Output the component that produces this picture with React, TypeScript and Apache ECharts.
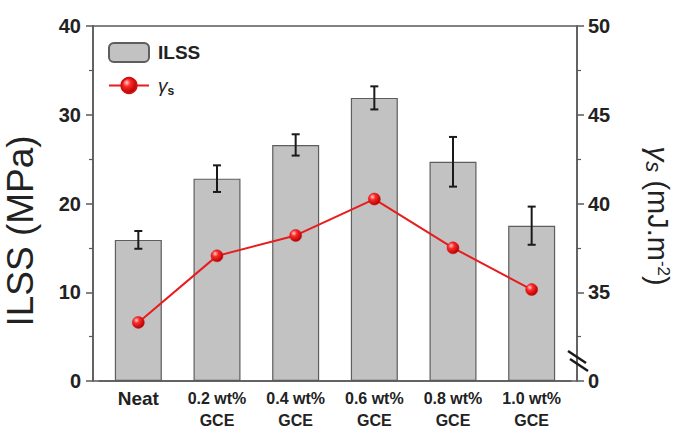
import React, { useEffect, useRef } from "react";
import * as echarts from "echarts";

// Sample groups along the x axis (first line, second line of each label)
const categories = ["Neat", "0.2 wt%", "0.4 wt%", "0.6 wt%", "0.8 wt%", "1.0 wt%"];
const categorySuffix = ["", "GCE", "GCE", "GCE", "GCE", "GCE"];

// Interlaminar shear strength (MPa) and its standard deviation
const ilss = [15.9, 22.8, 26.6, 31.9, 24.7, 17.5];
const ilssError = [1.0, 1.5, 1.2, 1.3, 2.8, 2.15];

// Surface energy (mJ/m^2), plotted on the broken right axis
const surfaceEnergy = [33.3, 37.05, 38.2, 40.25, 37.5, 35.15];

// Axis ticks
const leftTicks = { min: 0, max: 40, interval: 10 };
const rightTicks = { min: 30, max: 50, interval: 5 };

const FONT = "'Liberation Sans', Arial, Helvetica, sans-serif";
const GRID = { left: 99, right: 112, top: 26, bottom: 49 };
const AXIS_OFFSET = 6;
const W = 683;
const H = 430;

export default function App() {
  const ref = useRef<HTMLDivElement>(null);

  useEffect(() => {
    if (!ref.current) return;
    const chart = echarts.init(ref.current, undefined, { renderer: "svg" });

    const frameLeft = GRID.left - AXIS_OFFSET;
    const frameRight = W - GRID.right + AXIS_OFFSET;
    const frameTop = GRID.top;
    const frameBottom = H - GRID.bottom;

    const axisColor = "#5a5a5a";

    const markerColor = new echarts.graphic.RadialGradient(0.35, 0.32, 0.7, [
      { offset: 0, color: "#ffd0d0" },
      { offset: 0.35, color: "#ff2a2a" },
      { offset: 1, color: "#b00000" },
    ]);

    const option: any = {
      animation: false,
      backgroundColor: "#ffffff",
      textStyle: { fontFamily: FONT },
      grid: { ...GRID, containLabel: false },
      legend: {
        left: 103,
        top: 37,
        orient: "vertical",
        itemWidth: 40,
        itemHeight: 19,
        itemGap: 13,
        selectedMode: false,
        data: ["ILSS", "γs"],
        formatter: (name: string) =>
          name === "γs" ? "{g|γ}{s|s}" : "{b|ILSS}",
        textStyle: {
          padding: [0, 0, 0, 4],
          rich: {
            b: { fontSize: 19, fontWeight: "bold", color: "#222", fontFamily: FONT },
            g: { fontSize: 19, color: "#222", fontFamily: FONT, fontStyle: "italic" },
            s: {
              fontSize: 12,
              fontWeight: "bold",
              color: "#222",
              fontFamily: FONT,
              padding: [10, 0, 0, 0],
            },
          },
        },
      },
      xAxis: {
        type: "category",
        data: categories,
        axisLine: { show: true, lineStyle: { color: axisColor, width: 1.5 } },
        axisTick: { show: false },
        axisLabel: {
          margin: 6,
          interval: 0,
          formatter: (v: string, i: number) =>
            categorySuffix[i] ? `{p|${v}}\n{g|${categorySuffix[i]}}` : `{n|${v}}`,
          rich: {
            n: { fontSize: 19, fontWeight: "bold", color: "#222", fontFamily: FONT, lineHeight: 22 },
            p: { fontSize: 16, fontWeight: "bold", color: "#222", fontFamily: FONT, lineHeight: 22 },
            g: { fontSize: 16, fontWeight: "bold", color: "#222", fontFamily: FONT, lineHeight: 22 },
          },
        },
      },
      yAxis: [
        {
          type: "value",
          position: "left",
          offset: AXIS_OFFSET,
          ...leftTicks,
          splitLine: { show: false },
          axisLine: { show: true, lineStyle: { color: axisColor, width: 1.5 } },
          axisTick: { show: true, inside: false, length: 7, lineStyle: { color: axisColor, width: 1.5 } },
          minorTick: { show: true, splitNumber: 2, length: 4, lineStyle: { color: axisColor, width: 1.2 } },
          axisLabel: {
            margin: 12,
            fontSize: 20,
            fontWeight: "bold",
            color: "#222",
            fontFamily: FONT,
          },
        },
        {
          type: "value",
          position: "right",
          offset: AXIS_OFFSET,
          ...rightTicks,
          splitLine: { show: false },
          axisLine: { show: true, lineStyle: { color: axisColor, width: 1.5 } },
          axisTick: { show: true, inside: false, length: 7, lineStyle: { color: axisColor, width: 1.5 } },
          minorTick: { show: true, splitNumber: 2, length: 4, lineStyle: { color: axisColor, width: 1.2 } },
          axisLabel: {
            margin: 11,
            fontSize: 20,
            fontWeight: "bold",
            color: "#222",
            fontFamily: FONT,
            formatter: (v: number) => (v === rightTicks.min ? "0" : String(v)),
          },
        },
      ],
      series: [
        {
          name: "ILSS",
          type: "bar",
          yAxisIndex: 0,
          barWidth: 47,
          data: ilss,
          itemStyle: { color: "#c2c2c2", borderColor: "#5e5e5e", borderWidth: 1.2 },
          z: 2,
        },
        {
          name: "ILSS error",
          type: "custom",
          yAxisIndex: 0,
          z: 3,
          data: ilss.map((v, i) => [i, v, ilssError[i]]),
          encode: { x: 0, y: 1 },
          renderItem: (_p: any, api: any) => {
            const x = api.value(0);
            const y = api.value(1);
            const e = api.value(2);
            const top = api.coord([x, y + e]);
            const bot = api.coord([x, y - e]);
            const cap = 4;
            const style = { stroke: "#1a1a1a", lineWidth: 2 };
            return {
              type: "group",
              children: [
                { type: "line", shape: { x1: top[0], y1: top[1], x2: bot[0], y2: bot[1] }, style },
                { type: "line", shape: { x1: top[0] - cap, y1: top[1], x2: top[0] + cap, y2: top[1] }, style },
                { type: "line", shape: { x1: bot[0] - cap, y1: bot[1], x2: bot[0] + cap, y2: bot[1] }, style },
              ],
            };
          },
        },
        {
          name: "γs",
          type: "line",
          yAxisIndex: 1,
          data: surfaceEnergy,
          symbol: "circle",
          symbolSize: 12,
          lineStyle: { color: "#e81c1c", width: 2 },
          itemStyle: { color: markerColor, borderColor: "#d01010", borderWidth: 0.5 },
          z: 4,
        },
      ],
      graphic: [
        // plot frame
        {
          type: "rect",
          shape: { x: frameLeft, y: frameTop, width: frameRight - frameLeft, height: frameBottom - frameTop },
          style: { fill: "none", stroke: axisColor, lineWidth: 1.5 },
          z: 10,
        },
        // axis break marks on the right axis
        {
          type: "line",
          shape: { x1: frameRight - 9, y1: frameBottom - 30, x2: frameRight + 9, y2: frameBottom - 18 },
          style: { stroke: "#1a1a1a", lineWidth: 2.5 },
          z: 11,
        },
        {
          type: "line",
          shape: { x1: frameRight - 7, y1: frameBottom - 22, x2: frameRight + 11, y2: frameBottom - 10 },
          style: { stroke: "#1a1a1a", lineWidth: 2.5 },
          z: 11,
        },
        // axis titles
        {
          type: "text",
          x: 20,
          y: 231,
          rotation: Math.PI / 2,
          style: {
            text: "ILSS (MPa)",
            font: `37px ${FONT}`,
            fill: "#222",
            align: "center",
            verticalAlign: "middle",
          },
        },
        {
          type: "text",
          x: 658,
          y: 216,
          rotation: -Math.PI / 2,
          style: {
            text: "{g|γ}{s|s}{n| (mJ.m}{u|-2}{n|)}",
            align: "center",
            verticalAlign: "middle",
            fill: "#222",
            rich: {
              g: { fontSize: 30, fontStyle: "italic", fontFamily: FONT, fill: "#222", height: 32 },
              s: { fontSize: 22, fontStyle: "italic", fontFamily: FONT, fill: "#222", padding: [9, 0, 0, 0] },
              n: { fontSize: 29, fontFamily: FONT, fill: "#222" },
              u: { fontSize: 17, fontFamily: FONT, fill: "#222", padding: [0, 0, 11, 0] },
            },
          },
        },
      ],
    };

    chart.setOption(option);
    return () => chart.dispose();
  }, []);

  return <div ref={ref} style={{ width: W, height: H, position: "absolute", left: 0, top: 0 }} />;
}
